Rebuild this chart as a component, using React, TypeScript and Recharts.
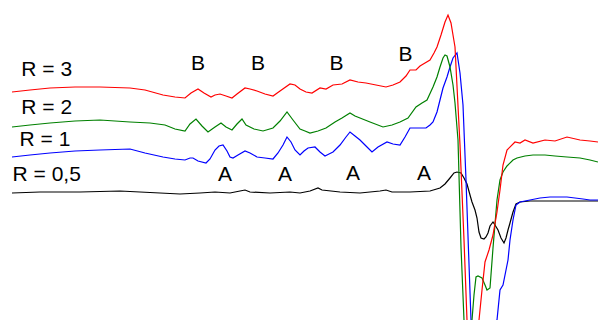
import React from 'react';
import { LineChart, Line, XAxis, YAxis, ReferenceDot } from 'recharts';

// [x, y] pairs; y measured downward (the y axis is reversed)
const red: [number, number][] = [
  [12,92],[30,90],[50,88],[75,87],[100,87],[130,88],[145,90],[163,95],[175,97],[185,98],[191,93],[198,89],[204,93],[211,97],[215,95],[220,94],[226,96],[232,98],[237,94],[245,88],[250,89],[257,91],[265,94],[273,96],[280,91],[290,84],[295,85],[300,89],[306,92],[312,93],[320,88],[326,89],[333,85],[342,84],[350,80],[358,82],[366,83],[376,85],[386,87],[393,85],[400,82],[406,76],[410,70],[416,70],[420,66],[425,63],[430,60],[434,53],[437,47],[441,35],[445,22],[448,15],[451,23],[453,35],[455,47],[460,145],[464,240],[467,320],[472,380],[479,320],[482,290],[485,262],[489,250],[493,235],[497,212],[500,190],[503,165],[507,150],[515,142],[520,143],[525,140],[533,143],[545,140],[555,141],[567,137],[580,140],[590,141],[598,142],
];
const green: [number, number][] = [
  [12,127],[30,125],[50,123],[75,121],[100,120],[130,122],[150,123],[165,125],[175,129],[185,131],[190,124],[196,119],[202,126],[208,132],[215,127],[221,123],[226,127],[232,130],[237,124],[242,119],[246,125],[254,129],[263,131],[273,128],[280,121],[287,112],[293,120],[300,129],[305,131],[310,133],[318,131],[326,128],[335,122],[342,118],[350,113],[355,116],[360,118],[370,122],[383,127],[392,125],[400,122],[408,118],[416,107],[422,103],[427,100],[433,87],[437,77],[440,67],[443,58],[445,55],[447,56],[450,67],[453,85],[455,103],[458,140],[461,247],[464,320],[468,380],[472,320],[474,295],[476,277],[478,276],[482,278],[485,285],[487,290],[490,288],[493,248],[497,200],[500,180],[503,172],[507,166],[513,160],[517,158],[525,156],[533,155],[545,155],[555,156],[567,157],[580,158],[590,160],[598,162],
];
const blue: [number, number][] = [
  [12,157],[30,155],[50,153],[75,151],[100,150],[130,149],[145,153],[163,157],[175,159],[185,160],[190,158],[193,158],[198,161],[206,163],[210,159],[215,150],[219,146],[223,145],[227,151],[230,157],[233,158],[238,155],[245,151],[250,153],[257,157],[265,158],[273,159],[278,153],[283,145],[287,137],[291,142],[295,150],[300,155],[304,151],[308,148],[315,147],[320,152],[325,156],[329,154],[333,152],[340,145],[346,137],[350,132],[355,136],[360,140],[366,146],[372,152],[378,147],[387,142],[393,144],[400,145],[405,137],[410,128],[418,128],[426,128],[430,125],[433,122],[437,112],[440,100],[443,88],[447,77],[450,67],[453,58],[457,53],[460,73],[463,105],[466,180],[471,320],[484,380],[497,320],[500,290],[503,285],[508,260],[510,240],[513,220],[516,205],[520,202],[530,200],[540,198],[550,197],[560,197],[567,197],[575,198],[583,199],[590,200],[598,200],
];
const black: [number, number][] = [
  [12,193],[40,192],[80,192],[120,191],[160,193],[180,194],[200,193],[215,192],[230,193],[240,191],[245,190],[250,192],[270,193],[290,192],[300,193],[310,191],[318,188],[322,190],[340,192],[360,193],[380,191],[386,190],[392,192],[410,192],[430,191],[440,188],[445,184],[450,178],[454,173],[457,172],[461,173],[464,178],[467,184],[470,195],[472,202],[475,210],[477,218],[479,232],[481,238],[484,239],[486,237],[488,233],[490,226],[493,222],[495,225],[498,230],[501,238],[504,243],[506,238],[508,230],[510,223],[513,212],[516,204],[520,202],[530,201],[550,201],[570,201],[598,201],
];

const labelTexts = ['R = 3', 'R = 2', 'R = 1', 'R = 0,5', 'B', 'B', 'B', 'B', 'A', 'A', 'A', 'A'];
const labelX = [46.7, 46.7, 45, 46.7, 198, 258, 336.5, 405.5, 225, 285, 353, 424];
const labelY = [69, 107, 139, 173.5, 63, 63, 62.5, 54, 173.5, 173.5, 173, 173];

const toData = (pts: [number, number][]) => pts.map(([x, y]) => ({ x, y }));

const series = [
  { name: 'R = 0,5', pts: black, color: '#000000' },
  { name: 'R = 1', pts: blue, color: '#0000ff' },
  { name: 'R = 2', pts: green, color: '#008000' },
  { name: 'R = 3', pts: red, color: '#ff0000' },
];

export default function App() {
  return (
    <div style={{ position: 'absolute', left: 0, top: 0, width: 598, height: 320, background: '#fff' }}>
      <LineChart width={598} height={320} margin={{ top: 0, right: 0, bottom: 0, left: 0 }}>
        <XAxis type="number" dataKey="x" domain={[0, 598]} hide allowDataOverflow />
        <YAxis type="number" domain={[0, 320]} reversed hide allowDataOverflow />
        {series.map((s) => (
          <Line
            key={s.name}
            data={toData(s.pts)}
            dataKey="y"
            type="linear"
            stroke={s.color}
            strokeWidth={1.2}
            dot={false}
            activeDot={false}
            isAnimationActive={false}
          />
        ))}
        {labelTexts.map((t, i) => (
          <ReferenceDot
            key={i}
            x={labelX[i]}
            y={labelY[i]}
            r={1}
            fill="none"
            stroke="none"
            ifOverflow="visible"
            label={{ value: t, position: 'center', fill: '#000', fontSize: 21, fontFamily: 'Liberation Sans, Arial, sans-serif' }}
          />
        ))}
      </LineChart>
    </div>
  );
}
